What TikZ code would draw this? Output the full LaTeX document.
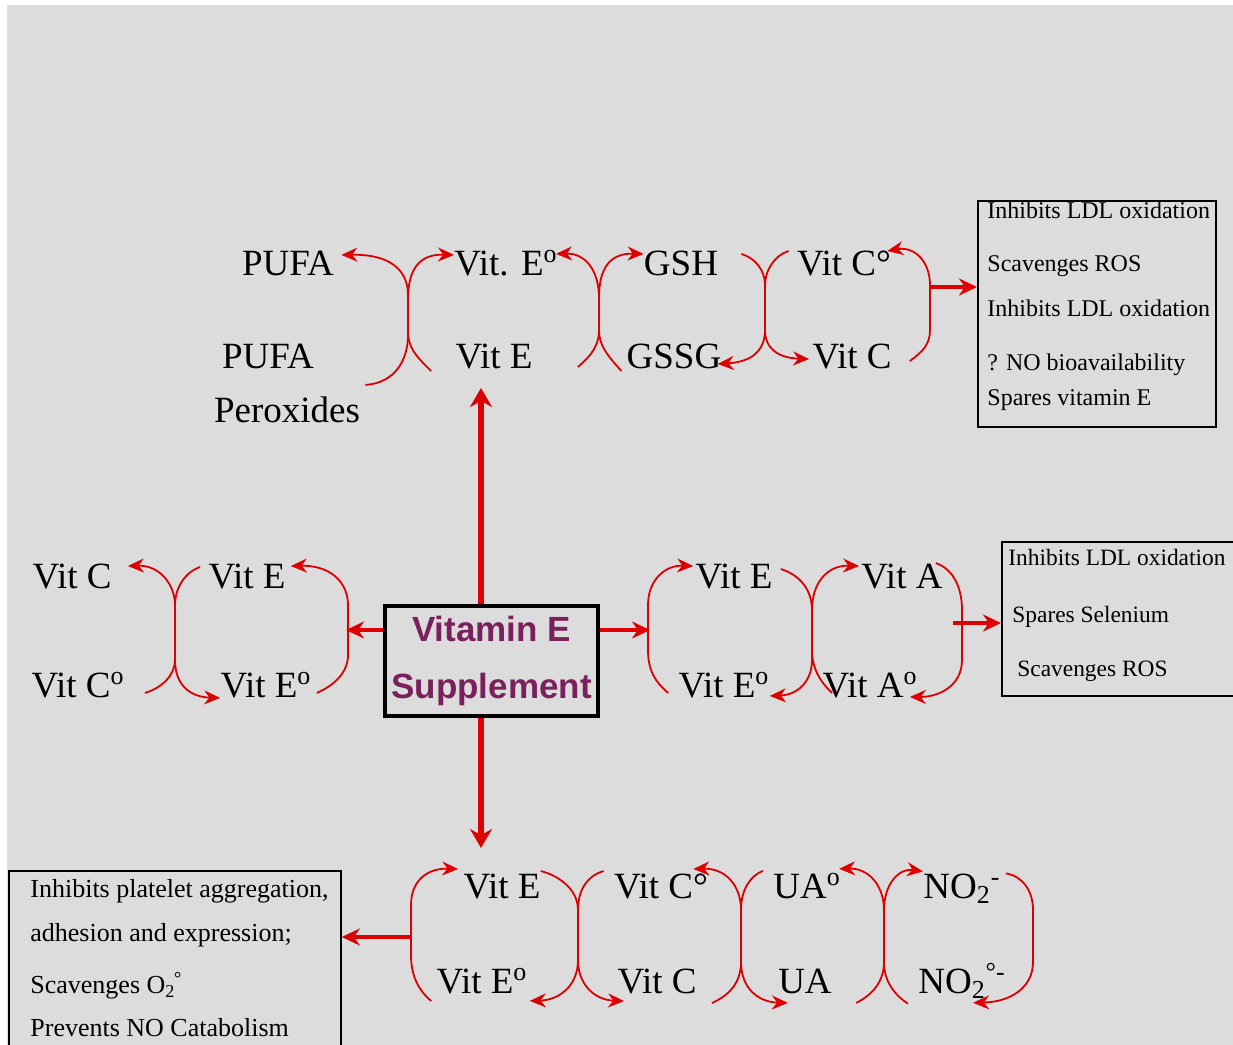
\documentclass[tikz,border=0pt]{standalone}
\usepackage{fontspec}
\setmainfont{Liberation Serif}
\newfontfamily\suppfont{Liberation Sans}
\usetikzlibrary{arrows.meta}
\definecolor{vred}{RGB}{222,0,0}
\definecolor{bggray}{RGB}{220,220,220}
\definecolor{vpurple}{RGB}{122,32,92}
\tikzstyle{chem} = [anchor=base, inner sep=0pt, font=\fontsize{18.5}{22}\selectfont]
\tikzstyle{redox} = [draw=vred, line width=0.9pt, -{Stealth[length=8pt,width=7pt]}]
\tikzstyle{arrow} = [draw=vred, line width=2.3pt, -{Stealth[length=9pt,width=8.5pt]}]
\tikzstyle{bigarrow} = [draw=vred, line width=3pt, -{Stealth[length=9.5pt,width=11pt]}]
\tikzstyle{infobox} = [rectangle, draw=black, line width=0.9pt, anchor=north west, inner sep=0pt]
\tikzstyle{notes} = [anchor=north west, align=left, inner sep=0pt]
\tikzstyle{supplement} = [rectangle, draw=black, line width=1.6pt, minimum width=106.5pt, minimum height=55pt, align=center, inner sep=0pt, text=vpurple, font=\suppfont\bfseries\fontsize{17.5}{28.5}\selectfont]

\begin{document}
\begin{tikzpicture}[x=0.5pt, y=-0.5pt]
				\useasboundingbox (0,0) rectangle (1233,1045);
				\fill[white] (0,0) rectangle (1233,1045);
				\fill[bggray] (7,5) rectangle (1233,1045);
				
				%\node(label)[type]{name}
				\node(vitbox)[supplement] at (491.5,661) {Vitamin E\\Supplement};
				
				%top row
				\node(pufa)[chem] at (288,275) {PUFA};
				\node(vitErad)[chem] at (506,275) {Vit. E\textsuperscript{o}};
				\node(gsh)[chem] at (681,275) {GSH};
				\node(vitCrad)[chem] at (844,275) {Vit C°};
				\node(pufaper)[chem] at (268,368) {PUFA};
				\node(peroxides)[chem] at (287,422) {Peroxides};
				\node(vitE)[chem] at (494,368) {Vit E};
				\node(gssg)[chem] at (674,368) {GSSG};
				\node(vitC)[chem] at (852,368) {Vit C};
				
				\node(topbox)[infobox, minimum width=119pt, minimum height=113pt] at (977,200) {};
				\node(topnotes)[notes, font=\fontsize{12}{15}\selectfont] at (987,201) {Inhibits LDL oxidation\\[11.5pt]
					Scavenges ROS\\[7.5pt]
					Inhibits LDL oxidation\\[12pt]
					? NO bioavailability\\[2.5pt]
					Spares vitamin E};
				
				%middle row
				\node(mvitC)[chem] at (72,588) {Vit C};
				\node(mvitE)[chem] at (247,588) {Vit E};
				\node(mvitCrad)[chem] at (78,697) {Vit C\textsuperscript{o}};
				\node(mvitErad)[chem] at (266,697) {Vit E\textsuperscript{o}};
				\node(rvitE)[chem] at (734,588) {Vit E};
				\node(rvitA)[chem] at (902,588) {Vit A};
				\node(rvitErad)[chem] at (724,697) {Vit E\textsuperscript{o}};
				\node(rvitArad)[chem] at (870,697) {Vit A\textsuperscript{o}};
				
				\node(midbox)[infobox, minimum width=125pt, minimum height=77pt] at (1001,541) {};
				\node(midnotes)[notes, font=\fontsize{11.7}{15}\selectfont] at (1008,549) {Inhibits LDL oxidation\\[13.5pt]
					\hspace*{2pt}Spares Selenium\\[12pt]
					\hspace*{4.5pt}Scavenges ROS};
				
				%bottom row
				\node(bvitE)[chem] at (502,898) {Vit E};
				\node(bvitCrad)[chem] at (661,898) {Vit C°};
				\node(buarad)[chem] at (807,898) {UA\textsuperscript{o}};
				\node(bno2)[chem] at (962,898) {NO\textsubscript{2}\textsuperscript{-}};
				\node(bvitErad)[chem] at (482,993) {Vit E\textsuperscript{o}};
				\node(bvitC)[chem] at (657,993) {Vit C};
				\node(bua)[chem] at (805,993) {UA};
				\node(bno2rad)[chem] at (962,993) {NO\textsubscript{2}\textsuperscript{°-}};
				
				\node(notesbox)[infobox, minimum width=166pt, minimum height=95pt] at (8,870) {};
				\node(botnotes)[notes, font=\fontsize{13}{15}\selectfont] at (30,879) {Inhibits platelet aggregation,\\[7pt]
					adhesion and expression;\\[11pt]
					Scavenges O\textsubscript{2}\kern-0.05em\textsuperscript{°}\\[6.5pt]
					Prevents NO Catabolism};
				
				%arrows
					\coordinate (upTip) at (481,388);
					\coordinate (downTip) at (481,848);
					\coordinate (leftHit) at (346,630);
					\coordinate (rightHit) at (650,630);
					\coordinate (vitCLoop) at (930,287);
					\coordinate (vitALoop) at (953,623);
					\coordinate (vitELoop) at (411,937);
					\draw [bigarrow] (vitbox.north -| upTip) -- (upTip);
					\draw [bigarrow] (vitbox.south -| downTip) -- (downTip);
					\draw [arrow] (vitbox.west |- leftHit) -- (leftHit);
					\draw [arrow] (vitbox.east |- rightHit) -- (rightHit);
					\draw [arrow] (vitCLoop) -- (vitCLoop -| topbox.west);
					\draw [arrow] (vitALoop) -- (vitALoop -| midbox.west);
					\draw [arrow] (vitELoop) -- (vitELoop -| notesbox.east);
				
				%redox couples, top
					\draw [redox] ([shift={(5,-11)}]peroxides.north east) .. controls (395,383) and (408,360) .. (408,335) -- (408,295) .. controls (408,270) and (390,254) .. ([shift={(7,-8)}]pufa.east);
					\draw [redox] ([shift={(-24,15)}]vitE.west) .. controls (415,355) and (408,348) .. (408,330) -- (408,300) .. controls (408,268) and (420,254) .. ([shift={(0,-8)}]vitErad.west);
					\draw [redox] ([shift={(45,11)}]vitE.east) .. controls (592,355) and (599,345) .. (599,330) -- (599,298) .. controls (599,270) and (585,253) .. ([shift={(-2,-9)}]vitErad.east);
					\draw [redox] ([shift={(-5,15)}]gssg.west) .. controls (607,355) and (599,345) .. (599,330) -- (599,298) .. controls (599,268) and (610,253) .. ([shift={(0,-9)}]gsh.west);
					\draw [redox] ([shift={(23,-9)}]gsh.east) .. controls (755,258) and (765,270) .. (765,285) -- (765,330) .. controls (765,352) and (750,362) .. ([shift={(-4,8)}]gssg.east);
					\draw [redox] ([shift={(-8,-12)}]vitCrad.west) .. controls (775,255) and (765,270) .. (765,285) -- (765,330) .. controls (765,350) and (780,358) .. ([shift={(-3,3)}]vitC.west);
					\draw [redox] ([shift={(18,5)}]vitC.east) .. controls (922,352) and (930,345) .. (930,330) -- (930,285) .. controls (930,262) and (915,246) .. ([shift={(-4,-12)}]vitCrad.east);
				
				%redox couples, middle
					\draw [redox] ([shift={(20,8)}]mvitCrad.east) .. controls (162,688) and (175,675) .. (175,660) -- (175,605) .. controls (175,585) and (160,565) .. ([shift={(16,-10)}]mvitC.east);
					\draw [redox] ([shift={(-8,-9)}]mvitE.west) .. controls (185,572) and (175,588) .. (175,605) -- (175,660) .. controls (175,685) and (190,697) .. ([shift={(0,13)}]mvitErad.west);
					\draw [redox] ([shift={(5,8)}]mvitErad.east) .. controls (335,685) and (348,672) .. (348,655) -- (348,605) .. controls (348,582) and (330,565) .. ([shift={(5,-10)}]mvitE.east);
					\draw [redox] ([shift={(-10,8)}]rvitErad.west) .. controls (655,682) and (648,670) .. (648,650) -- (648,605) .. controls (648,580) and (665,565) .. ([shift={(-2,-10)}]rvitE.west);
					\draw [redox] ([shift={(8,-7)}]rvitE.east) .. controls (800,575) and (812,590) .. (812,610) -- (812,660) .. controls (812,682) and (797,695) .. ([shift={(0,11)}]rvitErad.east);
					\draw [redox] ([shift={(10,8)}]rvitArad.west) .. controls (820,682) and (812,668) .. (812,650) -- (812,610) .. controls (812,582) and (828,565) .. ([shift={(-2,-10)}]rvitA.west);
					\draw [redox] ([shift={(-7,-13)}]rvitA.east) .. controls (955,570) and (962,590) .. (962,610) -- (962,660) .. controls (962,685) and (940,697) .. ([shift={(-8,12)}]rvitArad.east);
				
				%redox couples, bottom
					\draw [redox] ([shift={(-5,20)}]bvitErad.west) .. controls (418,990) and (411,975) .. (411,955) -- (411,905) .. controls (411,880) and (428,868) .. ([shift={(-5,-17)}]bvitE.west);
					\draw [redox] ([shift={(0,-15)}]bvitE.east) .. controls (560,876) and (578,890) .. (578,910) -- (578,960) .. controls (578,985) and (560,1000) .. ([shift={(2,20)}]bvitErad.east);
					\draw [redox] ([shift={(-10,-15)}]bvitCrad.west) .. controls (587,876) and (578,890) .. (578,910) -- (578,960) .. controls (578,985) and (595,1000) .. ([shift={(7,20)}]bvitC.west);
					\draw [redox] ([shift={(15,22)}]bvitC.east) .. controls (730,995) and (741,982) .. (741,962) -- (741,910) .. controls (741,885) and (725,868) .. ([shift={(-15,-17)}]bvitCrad.east);
					\draw [redox] ([shift={(-10,-15)}]buarad.west) .. controls (750,876) and (741,890) .. (741,910) -- (741,962) .. controls (741,988) and (758,1002) .. ([shift={(10,22)}]bua.west);
					\draw [redox] ([shift={(24,22)}]bua.east) .. controls (872,995) and (884,982) .. (884,962) -- (884,910) .. controls (884,885) and (868,868) .. ([shift={(-2,-17)}]buarad.east);
					\draw [redox] ([shift={(-10,23)}]bno2rad.west) .. controls (895,995) and (884,982) .. (884,962) -- (884,910) .. controls (884,885) and (898,868) .. ([shift={(0,-17)}]bno2.west);
					\draw [redox] ([shift={(5,-15)}]bno2.east) .. controls (1022,876) and (1033,890) .. (1033,910) -- (1033,962) .. controls (1033,988) and (1010,1002) .. ([shift={(-33,22)}]bno2rad.east);
\end{tikzpicture}
\end{document}
